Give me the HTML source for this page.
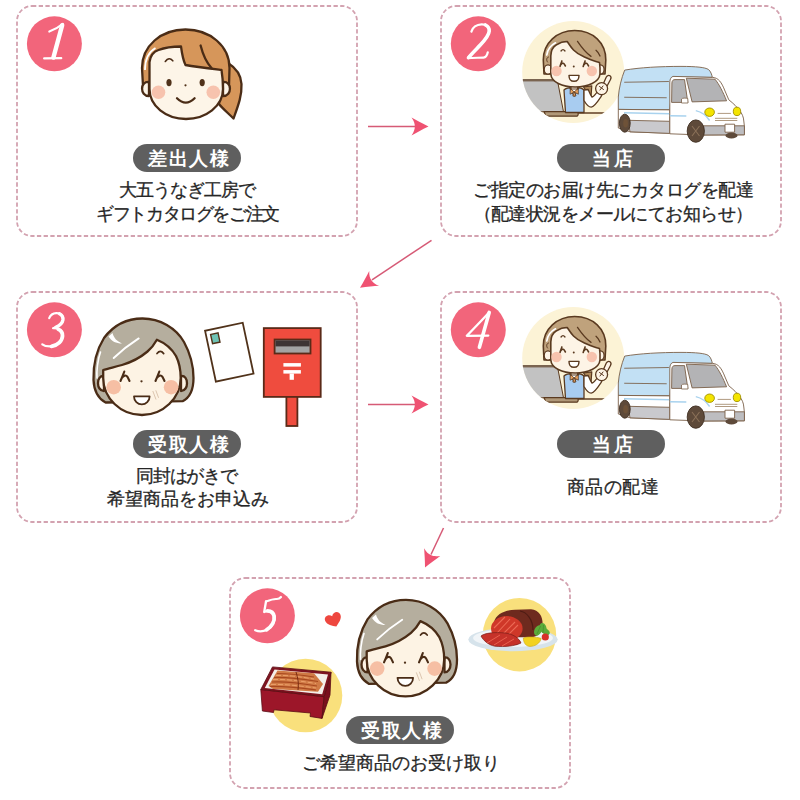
<!DOCTYPE html>
<html lang="ja"><head><meta charset="utf-8">
<style>
html,body{margin:0;padding:0;background:#fff;width:800px;height:800px;overflow:hidden}
body{position:relative;font-family:"Liberation Sans",sans-serif;color:#262626}
svg{position:absolute;left:0;top:0}
.num{position:absolute;width:56px;text-align:center;font-family:"Liberation Serif",serif;font-style:italic;color:#fff;font-size:52px;line-height:52px}
.pill{position:absolute;height:27.5px;width:108px;border-radius:14px;background:#5f5f5f;color:#fff;font-weight:bold;font-size:18.5px;line-height:29.5px;text-align:center;letter-spacing:1.9px;text-indent:5px;box-sizing:border-box}
.t{position:absolute;white-space:nowrap;font-size:18px;line-height:18px;text-align:center;width:400px;-webkit-text-stroke:0.3px #262626}
</style></head><body>
<svg width="800" height="800" viewBox="0 0 800 800">
<g fill="none" stroke="#d3a2b0" stroke-width="1.8" stroke-dasharray="4.3 2.4">
<rect x="17" y="6" width="340" height="230" rx="15"/>
<rect x="441" y="6" width="340" height="230" rx="15"/>
<rect x="17" y="292" width="340" height="230" rx="15"/>
<rect x="441" y="292" width="340" height="230" rx="15"/>
<rect x="230" y="578" width="340" height="210" rx="15"/>
</g>
<g fill="#f2657b">
<circle cx="54.4" cy="43.8" r="27.5"/>
<circle cx="478.3" cy="43.8" r="27.5"/>
<circle cx="54.4" cy="329.8" r="27.5"/>
<circle cx="478.3" cy="329.8" r="27.5"/>
<circle cx="267.4" cy="615.8" r="27.5"/>
</g>

<!-- girl -->
<g stroke="#4a2c16" stroke-width="2.3" stroke-linejoin="round" stroke-linecap="round">
<path d="M228,63 C236,68 241,75 241.5,84 C242,96 238,106 233.5,118.5 C229,114 222,108 219,104 L222,72 Z" fill="#d6965a"/>
<path d="M143,86 L142,68 C142,46 161,29.5 185.5,29.5 C210,29.5 229.5,46 229.5,68 L229,86 Z" fill="#d6965a"/>
<path d="M149,82 C140,81 139.5,96 149,96 Z" fill="#fdf5e8"/>
<path d="M223,82 C232,81 232.5,96 223,96 Z" fill="#fdf5e8"/>
<path d="M149.5,62 C150.5,55 154,51.5 158.5,50 C165,47.5 173,46.5 181,46.5 C182,54 183,60 185.5,65 C196,67 209,68.5 221.5,70 C222.5,76 223,82 223,89 C223,106 206,119 186,119 C166,119 149.5,106 149.5,89 Z" fill="#fdf5e8"/>
<path d="M200.6,45.5 C203,55 206,62 211.5,68" fill="none"/>
<path d="M165.3,61.5 Q169,56.5 172.8,60.8" fill="none" stroke-width="1.6"/>
<path d="M177,98.3 Q185.8,107 194.6,98.3" fill="none"/>
</g>
<path d="M145,70 C145,60 148.5,52 155.5,48" stroke="#fff" stroke-width="1.8" fill="none"/>
<g fill="#f7c3ae"><circle cx="158.5" cy="92.3" r="6.8"/><circle cx="213.3" cy="92.3" r="6.8"/></g>
<g fill="#50321a"><ellipse cx="169" cy="82.6" rx="2.6" ry="3.7"/><ellipse cx="202.2" cy="82.6" rx="2.6" ry="3.7"/><circle cx="185.5" cy="85.3" r="1.1"/></g>
<!-- staff -->
<defs><clipPath id="cc"><circle cx="573.2" cy="72" r="51"/></clipPath></defs>
<g id="staffvan">
<circle cx="573.2" cy="72" r="51" fill="#fcf3d6"/>
<g clip-path="url(#cc)" stroke="#5a3a20" stroke-width="1.6" stroke-linejoin="round" stroke-linecap="round">
<path d="M515,80.8 L557.5,80.8 L563.5,111.8 L515,111.8 Z" fill="#c2c2c2" stroke-width="1"/>
<path d="M515,80 L558,80" stroke="#7a6450" stroke-width="2.2"/>
<rect x="560" y="112.2" width="45" height="1.6" fill="#6a4a30" stroke="none"/>
<path d="M544,111.6 L577,111.6 Q579.5,113.9 577,116.2 L546,116.2 Z" fill="#b09878" stroke-width="1.2"/>
<path d="M583.5,87 L591.8,85.8 L591,97 Z" fill="#b08a5c" stroke-width="1.2"/>
<path d="M564,90 C566,88 570,87.5 573,87.5 L576,87.5 C579,87.5 582,88 584,90 L584,112.5 L565.5,112.5 Z" fill="#a8ccf0" stroke-width="1.3"/>
<path d="M569.5,87.5 L574.2,96.5 L579,87.5 Z" fill="#fff" stroke-width="1"/>
<path d="M570.5,88.5 L574.2,92 L574.2,92 L570.5,94 Z M578,88.5 L574.2,92 L578,94 Z" fill="#e9a25f" stroke-width="0.8"/>
<path d="M574.2,92 L572.8,96 L575.6,96 Z" fill="#e9a25f" stroke-width="0.8"/>
<path d="M584,90 L584,100.5 C586,104 588.5,107.2 591.2,107.2 C594.5,107 598.5,100.5 601.8,95.5 L597.5,91.5 C595.8,94 594,96.3 592,97.2 C590.5,95 589.3,92 588.2,89.5 Z" fill="#fff" stroke-width="1.3"/>
<path d="M603,84.5 L606.2,77.3 C607,75.5 608.8,75 610,75.8 C611.2,76.7 611.2,78.2 610.5,79.5 L606.8,86.5 Z" fill="#fdf4e6" stroke-width="1.3"/>
<circle cx="601.6" cy="88.6" r="6" fill="#fdf4e6" stroke-width="1.3"/>
<path d="M599.5,86.5 L603.5,89.5 M603,86 L600,90" stroke-width="1" fill="none"/>
<path d="M544,74 L543.3,60 C543.3,43 557,30.5 574.7,30.5 C593,30.5 606,43 605.8,60 L605,74 Z" fill="#bfa27c"/>
<ellipse cx="548" cy="69.5" rx="3.8" ry="4.6" fill="#fdf4e6" stroke-width="1.3"/>
<ellipse cx="600.3" cy="69.5" rx="3.8" ry="4.6" fill="#fdf4e6" stroke-width="1.3"/>
<path d="M571,84 L571,89 L577.5,89 L577.5,84 Z" fill="#fdf4e6" stroke-width="1.2"/>
<path d="M550.8,56 C551,50 553.5,46.5 556.5,44.8 C560,42.5 564,41.5 567.2,41.5 C569.5,45 571,47.5 573.5,50 C577,53.5 580,55 583,56.2 C587,58 590,59.5 593,60.6 C595.5,61.5 597.5,62 599.5,62.5 C600,66 600.2,70 600,74 C599.3,82 588,87 575.2,87 C562,87 551.3,82 550.8,74 Z" fill="#fdf4e6"/>
<path d="M577.5,41.4 C582,48 586,53 591,56.4 M596,50.3 C598,52 599.2,54 600,56" fill="none" stroke-width="1.3"/>
<path d="M546.8,55 C547.5,49.5 550.5,45.5 555.5,42.8" stroke="#fff" stroke-width="1.7" fill="none"/>
<path d="M547.5,62 C546,60 546.5,57.5 548.5,57" stroke-width="1" fill="none"/>
<path d="M561,51 Q563,48.2 565,51" fill="none" stroke-width="1.3"/>
<path d="M561.9,60.9 C561.2,63 560.6,64.6 560,66.4 M560.7,64.8 C561.8,63.2 563.3,62.6 564.1,63.9 L565.4,66 M585.1,60.9 C584.4,63 583.8,64.6 583.2,66.4 M583.9,64.8 C585,63.2 586.5,62.6 587.3,63.9 L588.6,66" fill="none" stroke-width="1.6"/>
<circle cx="573.75" cy="66.4" r="1" fill="#5a3a20" stroke="none"/>
<path d="M569,75.4 L579,75.4 C579,79 577,81.3 574,81.3 C571,81.3 569,79 569,75.4 Z" fill="#fff" stroke-width="1.4"/>

<g fill="#f7c3ae" stroke="none"><circle cx="556.5" cy="71" r="5.2"/><circle cx="591.8" cy="71" r="5.2"/></g>
</g>
<!-- van -->
<g stroke="#7a6048" stroke-width="0.9" stroke-linejoin="round">
<path d="M624.7,70.1 C640,67.5 660,66.4 681,66.4 C696,66.4 705,67.3 708.5,69.5 C710.8,71.5 711.8,74.5 712.3,77.4 L673,77 L669.8,109.8 L618.3,109.4 L618.3,97 C619,88 621.5,78 624.7,70.1 Z" fill="#c2e0f4"/>
<path d="M624.2,82.3 L668.9,81.5 M624.2,97.2 L666.7,97.8" stroke="#857260" stroke-width="1.1" fill="none"/>
<path d="M618.3,109.4 L669.8,109.9 L669.8,133.3 L630,131.8 L618.3,128 Z" fill="#fff"/>
<path d="M628,120.3 L669.8,121.3 L669.8,133.4 L630,131.8 Z" fill="#c9c9cd"/>
<path d="M624,112.8 L669.8,113.8" stroke="#a8d2ee" stroke-width="1.4"/>
<path d="M673,76.4 L712.8,77.4 C718.5,78 721.5,82 725,91 L728.8,99.8 C733.5,103.5 737.5,107.5 739.5,110.4 C742,113.5 743.6,117 743.8,121 L744.4,126.3 L744.4,134.8 L703.3,135 L669.8,133.8 L669.8,82 C670,79 671,77 673,76.4 Z" fill="#fff"/>
<path d="M671.9,83 C672,80.8 673,79.6 675,79.6 L684.5,79.6 L687.8,102.4 L671.6,102.4 Z" fill="#b3b3b5"/>
<path d="M686.3,78.2 L715,79.2 C719,84 723,92 726.6,100.8 L692.1,101.9 Z" fill="#b3b3b5"/>
<path d="M681.5,99 C682,98 686,97.8 687.8,98.6 L688,103 L681.5,103 Z" fill="#fff" stroke-width="0.8"/>
<path d="M669.8,115.7 L686.3,116" stroke="#a8d2ee" stroke-width="1.4"/>
<path d="M695.8,110.6 C702,112 706,115 709.6,120.5" stroke="#a8d2ee" stroke-width="1.4" fill="none"/>
<path d="M703.3,125.8 L744.4,125.8 L744.4,134.8 L703.3,135 Z" fill="#bdbdc0"/>
<rect x="725" y="124.2" width="9.6" height="8" fill="#fff" stroke-width="0.9"/>
<path d="M717.6,113.4 L730.9,113.4 M715,118.3 L737.3,118.3 M715,120.5 L737.3,120.5" stroke="#b09a80" stroke-width="1" fill="none"/>
<ellipse cx="709.6" cy="112.2" rx="4.8" ry="4.2" fill="#f4e400" stroke="#a09000"/>
<ellipse cx="737" cy="111.4" rx="3.7" ry="4.2" fill="#f4e400" stroke="#a09000"/>
<ellipse cx="731.5" cy="135.5" rx="6" ry="3" fill="#5e4a3a" stroke="none"/>
<ellipse cx="624.8" cy="123.2" rx="5.4" ry="9" fill="#5e4a3a" stroke="#3e2e20"/>
<ellipse cx="625.6" cy="123.2" rx="2.4" ry="4.2" fill="#6e5238" stroke="none"/>
<ellipse cx="695.8" cy="131.1" rx="8.6" ry="11.2" fill="#5e4a3a" stroke="#3e2e20"/>
<path d="M692,126 L699.5,136 M699.5,126 L692,136" stroke="#8a7058" stroke-width="1.1"/>
</g>
</g>
<use href="#staffvan" transform="translate(0,286)"/>
<!-- grandma -->
<g id="granny">
<g stroke="#4a2c16" stroke-width="2.3" stroke-linejoin="round" stroke-linecap="round">
<path d="M105.6,402.5 C99,399 94,391 93.5,380 C93,365 96.5,350 104,338 C113,326 126,318.5 142.5,318.5 C160,318.5 176,328 184,342 C190,353 193.5,366 193.5,378 C193.5,390 189,398 182.6,401.2 Z" fill="#b5ae9e"/>
<path d="M104,376 C96,375 96,391 104,391 Z" fill="#fdf3e4"/>
<path d="M181,376 C189,375 189,391 181,391 Z" fill="#fdf3e4"/>
<path d="M103.2,370 C108,368.5 115,367 122,365 C132,362 141,357 147.5,351.5 C151.5,348 154.5,344 156.9,339.7 C165,343 172,349 176,356 C179.5,363 180.7,370 180.7,378 C180.7,398 163,415 142,415 C120.5,415 103.2,398 103.2,378 Z" fill="#fdf3e4"/>
<path d="M157,353.6 Q160.3,349.3 163.7,353.6" fill="none" stroke-width="1.7"/>
<path d="M124.3,371.6 C123,375 121.8,378 120.5,381 M121.7,378.2 C123.3,375.6 125.9,374.6 127.3,376.6 C128.2,378 128.8,379.5 129.5,381" fill="none" stroke-width="2.1"/>
<path d="M159.3,371.6 C158,375 156.8,378 155.5,381 M156.7,378.2 C158.3,375.6 160.9,374.6 162.3,376.6 C163.2,378 163.8,379.5 164.5,381" fill="none" stroke-width="2.1"/>
<path d="M134,396.4 L149.6,396.4 C149.6,401 146,404.4 141.8,404.4 C137.6,404.4 134,401 134,396.4 Z" fill="#fff" stroke-width="1.8"/>
</g>

<path d="M113.7,358 C121,351 130,344 138.7,338.4" stroke="#fff" stroke-width="1.9" fill="none" stroke-linecap="round"/>
<path d="M108.5,336.5 C112,341.5 116,343.5 122,343.5 C117,341 114,338.5 112.5,333 Z" fill="#fff"/>
<path d="M100.5,352 C97.5,360 96.5,372 97,378" stroke="#fff" stroke-width="1.6" fill="none" stroke-linecap="round"/>
<g fill="#f6bfa4"><circle cx="113.7" cy="387.2" r="7.3"/><circle cx="171.1" cy="387.2" r="7.3"/></g>
<circle cx="141.5" cy="381.3" r="1.15" fill="#50321a"/>
<path d="M152.8,391 L156,399.5 M155.8,390.3 L158.6,397.8" stroke="#dcc6b0" stroke-width="1" fill="none"/>
</g>
<!-- postcard -->
<g transform="translate(229.3,352.2) rotate(-12)">
<rect x="-19.25" y="-26" width="38.5" height="52" fill="#fff" stroke="#50321a" stroke-width="1.8"/>
<rect x="-14.6" y="-21.2" width="7.6" height="9.4" fill="#6ec3b5" stroke="#50321a" stroke-width="1.4"/>
</g>
<!-- postbox -->
<g stroke="#5a2a18" stroke-width="1.8">
<rect x="286.4" y="396" width="11" height="30" fill="#ef4c3e"/>
<rect x="263.8" y="328.1" width="56.9" height="68.8" fill="#ef4c3e"/>
<rect x="274.6" y="339.5" width="35.9" height="14" fill="#a3a3a3"/>
<rect x="275.5" y="340.4" width="34.1" height="6" fill="#3e3434" stroke="none"/>
</g>
<g fill="#fff">
<rect x="283.4" y="363.1" width="17.5" height="3.5"/>
<rect x="283.4" y="370.1" width="17.5" height="3.5"/>
<rect x="289.6" y="373.5" width="4.3" height="6.3"/>
</g>
<use href="#granny" transform="translate(263.5,281.4)"/>
<!-- box5 food -->
<circle cx="305.5" cy="695.5" r="36.8" fill="#f9e07c"/>
<path d="M260.8,689.5 L324.1,696.7 L322,718.4 L310,716.5 L310.5,713 L274,709.8 L273.5,712.5 L262.4,711 Z" fill="#9c1629" stroke="#5a0c14" stroke-width="0.8"/>
<path d="M324.1,696.7 L331,672.2 L330,695 L322,718.4 Z" fill="#7a0f1d" stroke="#5a0c14" stroke-width="0.8"/>
<path d="M260.8,689.5 L272.5,666.9 L331,672.2 L324.1,696.7 Z" fill="#7e1420" stroke="#5a0c14" stroke-width="0.8"/>
<path d="M264.8,688 L274.5,669.6 L328,674.4 L322.2,694.3 Z" fill="#f4efe9"/>
<path d="M268.5,686 L277.5,670.5 L314,673.3 L323,684 L318,691.8 L273,689 Z" fill="#d07a45"/>
<path d="M272,682 C285,681 300,683 317,686 M274,677.5 C288,677 302,679 318,681.5 M277,673.5 C290,673.5 302,675 314,677 M270,686.5 C285,686 300,688 316,690" stroke="#a8481f" stroke-width="1.2" fill="none"/>
<path d="M273,679.5 C287,679 300,681 316,683.5 M276,675.5 C289,675 301,677 314,679 M271,684.5 C285,684 300,686 316,688" stroke="#eba06a" stroke-width="1" fill="none" stroke-dasharray="5 2"/>
<path d="M296,672 C298,678 299,684 298,690" stroke="#7a2c12" stroke-width="1" fill="none"/>
<circle cx="519.5" cy="634.7" r="36.7" fill="#f9e07c"/>
<ellipse cx="513" cy="639.5" rx="44.7" ry="11.7" fill="#d6e3eb"/>
<ellipse cx="513" cy="638" rx="40" ry="9" fill="#f1f5f8"/>
<path d="M494,622 C496,614 505,609.8 515,609.8 L531,609.3 C539.5,610 543,617 542.6,625 C542.2,632 538,636.5 532,637.2 L500,637.4 Z" fill="#6e2a1e"/>
<path d="M520,611 C527,612 533,620 533,630" stroke="#4e1c14" stroke-width="1.2" fill="none"/>
<ellipse cx="506.8" cy="628.5" rx="15.8" ry="12.4" fill="#cf3829"/>
<path d="M497,633 L510,619 M501,636 L515,622 M506,637 L518,625 M494,628 L505,617" stroke="#ec6a55" stroke-width="1.1"/>
<path d="M481,636 C485,632.8 495,632 505,633 C513,634 519,638 521,643 C515,646 505,647.2 495,646.2 C488,645 483,640 481,636 Z" fill="#c6322a" stroke="#7a1e18" stroke-width="0.7"/>
<path d="M487,643 L500,635 M494,645 L507,637 M502,646 L514,639" stroke="#e8604e" stroke-width="1"/>
<g fill="#5dab3a"><ellipse cx="538" cy="630.5" rx="3.6" ry="5.5" transform="rotate(25 538 630.5)"/><ellipse cx="543" cy="628" rx="3.4" ry="5.2" transform="rotate(-15 543 628)"/><ellipse cx="546" cy="632" rx="3" ry="4" transform="rotate(-50 546 632)"/></g>
<path d="M537,634 L540.5,626 M543,633 L543.5,625" stroke="#3f8a28" stroke-width="0.6"/>
<circle cx="545.3" cy="637" r="3.6" fill="#d8302a"/>
<path d="M523.3,638 C527,636.5 536,636.5 541.2,638.5 C540,643.5 535,646.4 530,646.4 C526,646.4 523.5,643 523.3,638 Z" fill="#f2d21e" stroke="#c9a810" stroke-width="0.6"/>
<path transform="translate(333.4,619.2) rotate(-22)" d="M0,-3.2 C-1.8,-6.8 -8.2,-6.8 -8.2,-1.5 C-8.2,2.8 -3.2,5.6 0,7.8 C3.2,5.6 8.2,2.8 8.2,-1.5 C8.2,-6.8 1.8,-6.8 0,-3.2 Z" fill="#ee473f"/>
<!-- digits -->
<g fill="none" stroke="#fff" stroke-linecap="round" stroke-linejoin="round">
<path d="M62.2,25.2 L53.4,57.6" stroke-width="4.4"/>
<path d="M49.3,31.6 C54,30 58.5,27.5 62.8,23.8" stroke-width="2.1"/>
<path d="M44.2,58.4 L61.2,58.2" stroke-width="2.3"/>
<path d="M471.4,31.6 C472.5,27.5 476.5,24.4 481.6,24.3 C486.5,24.2 489.6,26.8 489.3,31 C489,36 484.5,41 479.5,46 C475,50.5 470.5,54.5 467.8,58.2 C473,57.6 479,57.9 483.5,57.6 C486,57.4 487.2,55 487.8,52.3" stroke-width="2.2"/>
<path d="M485.5,25 C488,26.2 489.4,28.3 489.2,31.2 C488.9,35.5 485,40 480.5,44.8 C476,49.5 471.5,53.8 468.6,57.5" stroke-width="3.6"/>
<path d="M49.2,318.2 C50.5,315 53,313.4 56.2,313.2 C60.5,313 63.3,315.5 63,319.5 C62.6,323.5 58.5,326.5 53,328.2 C58.5,328 62.6,330.5 62.6,335 C62.6,341 57,346.2 50.5,346.4 C47,346.5 44,345.7 42.3,344.3" stroke-width="2.2"/>
<path d="M59.5,313.8 C62.2,315.2 63.2,317.5 62.9,320 C62.4,323.2 59.6,325.6 55.8,327.3" stroke-width="3.4"/>
<path d="M58.3,329.3 C61.3,330.6 62.7,332.8 62.5,336 C62.2,341 58,345.3 51.5,346.3" stroke-width="3.8"/>
<path d="M489.2,312.4 C482,320 474,328.5 466.8,335.8 L488.3,335.6" stroke-width="2.3"/>
<path d="M489.2,312.4 L479.4,347.3" stroke-width="3.6"/>
<path d="M266,601.5 C270,600 273.5,598.8 276.5,599 C278.5,599.1 279.8,598.5 281,597" stroke-width="2.2"/>
<path d="M266,601.5 L264.2,612 C268,610.2 272.5,611.5 274,615.5 C275.5,620.5 272.5,627 267,629.8 C263,631.7 258.5,631.7 255.2,630.2" stroke-width="2.3"/>
<path d="M267.5,610.9 C271,611 273.5,613 274.1,616.2 C274.9,621 272,626.8 266.5,629.8" stroke-width="3.8"/>
</g>
<!-- arrows -->
<defs><path id="ah" d="M0,0 C-6.5,-3 -12.5,-6.5 -17,-8.9 C-14.5,-5.5 -13.6,-2.5 -13.7,0 C-13.6,2.5 -14.5,5.5 -17,8.9 C-12.5,6.5 -6.5,3 0,0 Z"/></defs>
<g stroke="#d65a76" stroke-width="1.5" fill="none">
<line x1="368" y1="126.5" x2="416" y2="126.5"/>
<line x1="368" y1="404.5" x2="416" y2="404.5"/>
<line x1="431.5" y1="240.3" x2="372" y2="279.8"/>
<line x1="443.5" y1="528" x2="431" y2="554.5"/>
</g>
<g fill="#ef5272">
<use href="#ah" transform="translate(428.5,126.5)"/>
<use href="#ah" transform="translate(428.5,404.5)"/>
<use href="#ah" transform="translate(360,287.8) rotate(146.4)"/>
<use href="#ah" transform="translate(425,567.5) rotate(115.1)"/>
</g>
</svg>

<div class="pill" style="left:133px;top:144px">差出人様</div>
<div class="pill" style="left:557px;top:144px;letter-spacing:3.4px;text-indent:6px">当店</div>
<div class="pill" style="left:133px;top:430px">受取人様</div>
<div class="pill" style="left:557px;top:430px;letter-spacing:3.4px;text-indent:6px">当店</div>
<div class="pill" style="left:346px;top:716px">受取人様</div>

<div class="t" style="left:-13px;top:181px;letter-spacing:-1px">大五うなぎ工房で</div>
<div class="t" style="left:-12.5px;top:205px;letter-spacing:-1.4px">ギフトカタログをご注文</div>
<div class="t" style="left:413px;top:181px;letter-spacing:-0.5px">ご指定のお届け先にカタログを配達</div>
<div class="t" style="left:413px;top:205px;letter-spacing:-0.58px">（配達状況をメールにてお知らせ）</div>
<div class="t" style="left:-13.5px;top:467px;letter-spacing:-1.2px">同封はがきで</div>
<div class="t" style="left:-12px;top:490px">希望商品をお申込み</div>
<div class="t" style="left:413px;top:478px;letter-spacing:0.4px">商品の配達</div>
<div class="t" style="left:200.5px;top:754px">ご希望商品のお受け取り</div>
</body></html>
